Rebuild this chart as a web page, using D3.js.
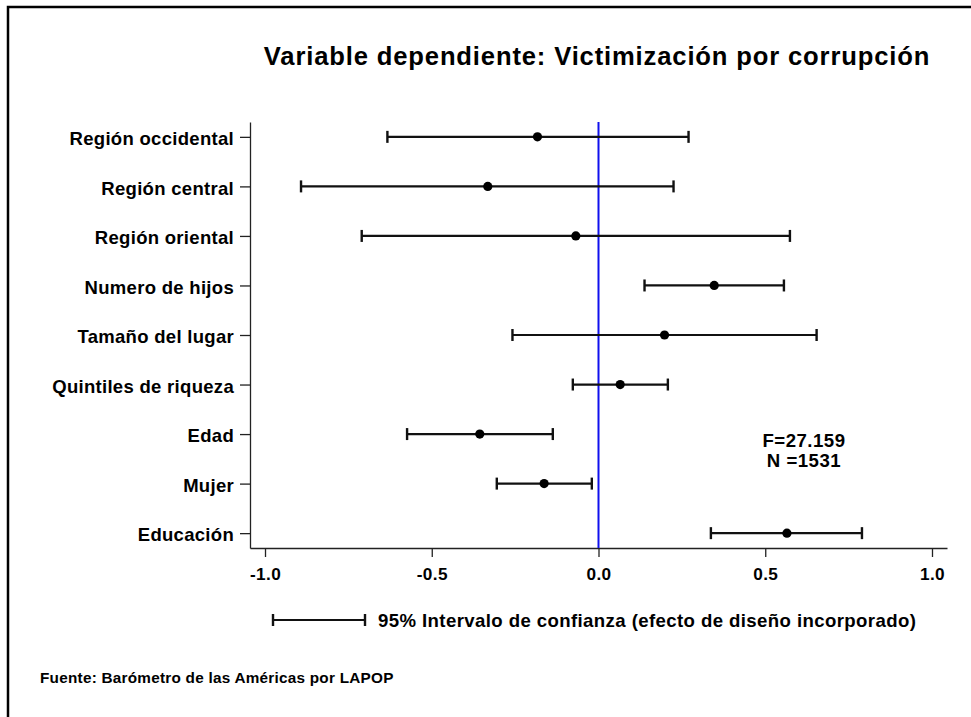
<!DOCTYPE html>
<html>
<head>
<meta charset="utf-8">
<script src="https://cdn.jsdelivr.net/npm/d3@7"></script>
<style>
  html, body { margin: 0; padding: 0; background: #fff; }
  svg text { font-family: "Liberation Sans", Arial, Helvetica, sans-serif; font-weight: bold; fill: #000; }
</style>
</head>
<body>
<script>
const categories = ["Región occidental", "Región central", "Región oriental", "Numero de hijos",
  "Tamaño del lugar", "Quintiles de riqueza", "Edad", "Mujer", "Educación"];
const coef  = [-0.183, -0.332, -0.068, 0.347, 0.198, 0.065, -0.356, -0.163, 0.565];
const lower = [-0.633, -0.892, -0.710, 0.138, -0.258, -0.077, -0.574, -0.305, 0.337];
const upper = [ 0.270,  0.225,  0.574, 0.556,  0.654,  0.208, -0.137, -0.020, 0.790];
const xTicks = [-1, -0.5, 0, 0.5, 1];
const title = "Variable dependiente: Victimización por corrupción";
const statF = "F=27.159";
const statN = "N =1531";
const legendText = "95% Intervalo de confianza (efecto de diseño incorporado)";
const sourceText = "Fuente: Barómetro de las Américas por LAPOP";

const W = 971, H = 717;
const svg = d3.select("body").append("svg").attr("width", W).attr("height", H);

// frame (left + top)
svg.append("path").attr("d", `M8,${H} L8,7 L${W},7`).attr("fill", "none")
  .attr("stroke", "#000").attr("stroke-width", 2.5);

const x = d3.scaleLinear().domain([-1.045, 1.045]).range([250, 947]);
const y = d3.scalePoint().domain(categories).range([122, 548]).padding(0.3);

// title
svg.append("text").attr("x", 597).attr("y", 65).attr("text-anchor", "middle")
  .style("font-size", "25.6px").style("letter-spacing", "0.85px").text(title);

// x axis
const gx = svg.append("g").attr("transform", "translate(0,548)")
  .call(d3.axisBottom(x).tickValues(xTicks).tickFormat(d => d.toFixed(1)).tickSize(9).tickSizeOuter(0));
gx.selectAll("path,line").attr("stroke", "#222").attr("stroke-width", 1.3);
gx.selectAll("text").style("font-size", "17.2px").style("letter-spacing", "0.4px")
  .attr("fill", "#000").attr("y", 32).attr("dy", 0);

// y axis
const gy = svg.append("g").attr("transform", "translate(250,0)")
  .call(d3.axisLeft(y).tickSize(10).tickSizeOuter(0).tickPadding(6));
gy.selectAll("path,line").attr("stroke", "#222").attr("stroke-width", 1.3);
gy.selectAll("text").style("font-size", "18.5px").style("letter-spacing", "0.3px")
  .attr("fill", "#000").attr("dy", "0.42em");

// zero line
svg.append("line").attr("x1", x(0)).attr("x2", x(0)).attr("y1", 122).attr("y2", 548)
  .attr("stroke", "#1010ee").attr("stroke-width", 2);

// error bars
const rows = categories.map((c, i) => ({c, m: coef[i], lo: lower[i], hi: upper[i]}));
const g = svg.append("g");
const capH = 6;
rows.forEach(r => {
  const yy = y(r.c);
  g.append("line").attr("x1", x(r.lo)).attr("x2", x(r.hi)).attr("y1", yy).attr("y2", yy)
    .attr("stroke", "#111").attr("stroke-width", 2.2);
  [r.lo, r.hi].forEach(v => g.append("line").attr("x1", x(v)).attr("x2", x(v))
    .attr("y1", yy - capH).attr("y2", yy + capH).attr("stroke", "#111").attr("stroke-width", 2.4));
  g.append("circle").attr("cx", x(r.m)).attr("cy", yy).attr("r", 4.6).attr("fill", "#000");
});

// stats
svg.append("text").attr("x", 804).attr("y", 447).attr("text-anchor", "middle")
  .style("font-size", "18.6px").style("letter-spacing", "0.5px").text(statF);
svg.append("text").attr("x", 804).attr("y", 467).attr("text-anchor", "middle")
  .style("font-size", "18.6px").style("letter-spacing", "0.5px").text(statN);

// legend
const ly = 620;
svg.append("line").attr("x1", 273).attr("x2", 365).attr("y1", ly).attr("y2", ly).attr("stroke", "#111").attr("stroke-width", 2.2);
[273, 365].forEach(v => svg.append("line").attr("x1", v).attr("x2", v).attr("y1", ly - capH).attr("y2", ly + capH)
  .attr("stroke", "#111").attr("stroke-width", 2.4));
svg.append("text").attr("x", 378).attr("y", 627).style("font-size", "18.6px").style("letter-spacing", "0.4px").text(legendText);

// source
svg.append("text").attr("x", 40).attr("y", 683).style("font-size", "15.3px").style("letter-spacing", "0.25px").text(sourceText);
</script>
</body>
</html>
